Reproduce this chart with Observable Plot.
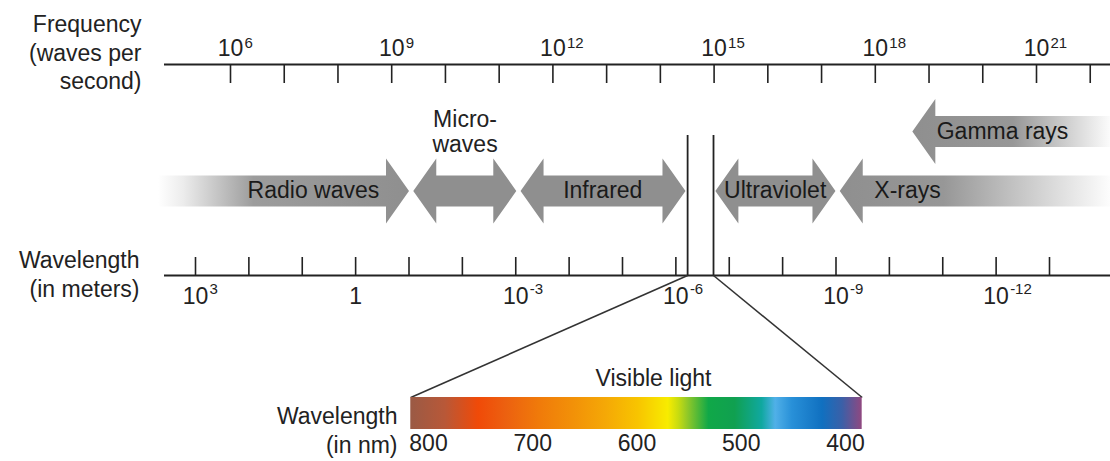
<!DOCTYPE html>
<html>
<head>
<meta charset="utf-8">
<script src="https://cdn.jsdelivr.net/npm/d3@7"></script>
<script src="https://cdn.jsdelivr.net/npm/@observablehq/plot@0.6"></script>
<style>
  html, body { margin: 0; padding: 0; background: #fff; }
  #chart { width: 1110px; height: 461px; }
</style>
</head>
<body>
<div id="chart"></div>
<script>
// ---------------- DATA ----------------
const freqTickExponents = [6,7,8,9,10,11,12,13,14,15,16,17,18,19,20,21,22];
const freqLabelExponents = [6, 9, 12, 15, 18, 21];
const waveTickExponents = [3,2,1,0,-1,-2,-3,-4,-5,-6,-7,-8,-9,-10,-11,-12,-13];
const waveLabelExponents = [3, 0, -3, -6, -9, -12];

const bandNames      = ["Radio waves", "Micro-\nwaves", "Infrared", "Ultraviolet", "X-rays", "Gamma rays"];
const bandLongEnd    = [3.7, -1.08, -3.09, -6.74, -9.07, -10.43];   // log10 wavelength (m)
const bandShortEnd   = [-1.0, -3.01, -6.18, -8.99, -14.2, -14.2];
const bandHeads      = ["right", "both", "both", "both", "left", "left"];
const bandRow        = ["lower", "lower", "lower", "lower", "lower", "upper"];
const bandLabelAt    = [0.79, -2.05, -4.63, -7.86, -10.34, -12.12];
const bandLabelPlace = ["on", "above", "on", "on", "on", "on"];
const bandFade       = ["left", "none", "none", "none", "right", "rightLate"];

const visibleEdges = [-6.22, -6.705];      // log10 wavelength of the two vertical lines
const spectrumEnds = [817, 384];           // nm at the ends of the colour bar
const nmTicks = [800, 700, 600, 500, 400];
const spectrumNm     = [817, 784, 752, 726, 694, 662, 630, 599, 570, 560, 551, 531, 506, 480, 467, 451, 422, 403, 384];
const spectrumColors = ["#9a5a45", "#b85838", "#f04a08", "#ec6010", "#f07a0a", "#f29008", "#f5a806", "#f8c400",
                        "#f8ec00", "#c8dc10", "#90c828", "#10a848", "#10a050", "#10a8a0", "#50b0e8", "#2890d8",
                        "#1070c0", "#3a60a8", "#904880"];

const freqTitle = ["Frequency", "(waves per", "second)"];
const waveTitle = ["Wavelength", "(in meters)"];
const nmTitle = ["Wavelength", "(in nm)"];
const visibleTitle = "Visible light";

// ---------------- LAYOUT / STYLE ----------------
const LAYOUT = {
  width: 1110, height: 461,
  axisLeft: 164, axisRight: 1110,
  freqAxisY: 64, freqTickLen: 19, freqLabelY: 48, freqSupY: 43,
  waveAxisY: 275, waveTickLen: 18, waveLabelY: 296, waveSupY: 289,
  rowY: {lower: 190.5, upper: 131},
  shaftHalf: 15.5, headHalf: 32.5, headLen: 23,
  microLabelY: 130.5,
  visTop: 135,
  barTop: 397, barBottom: 429,
  nmLabelY: 443, visibleLabelX: 653, visibleLabelY: 378,
  titleX: 141, nmTitleX: 397,
  font: 23, supFont: 15, supDx: 14
};
const INK = "#222";
const ARROW = "#8f8f8f";

// ---------------- SCALES ----------------
const freqScale = Plot.scale({x: {domain: [6, 21], range: [230, 1036]}});
const waveScale = Plot.scale({x: {domain: [3, -13], range: [195, 1049]}});
const nmScale   = Plot.scale({x: {domain: [800, 400], range: [428, 845]}});

// ---------------- ARROWS ----------------
function arrowPolygon(i) {
  const a = waveScale.apply(bandLongEnd[i]);
  const b = waveScale.apply(bandShortEnd[i]);
  const cy = LAYOUT.rowY[bandRow[i]];
  const S = LAYOUT.shaftHalf, Hh = LAYOUT.headHalf, h = LAYOUT.headLen;
  const L = bandHeads[i] !== "right", R = bandHeads[i] !== "left";
  const p = [];
  if (L) p.push([a, cy], [a + h, cy - Hh], [a + h, cy - S]); else p.push([a, cy - S]);
  if (R) p.push([b - h, cy - S], [b - h, cy - Hh], [b, cy], [b - h, cy + Hh], [b - h, cy + S]);
  else p.push([b, cy - S], [b, cy + S]);
  if (L) p.push([a + h, cy + S], [a + h, cy + Hh]); else p.push([a, cy + S]);
  return p.map(([x, y]) => ({x, y}));
}
const fadeFill = {left: "url(#fadeLeft)", none: ARROW, right: "url(#fadeRight)", rightLate: "url(#fadeRightLate)"};
const arrowMarks = bandNames.map((name, i) =>
  Plot.line(arrowPolygon(i), {x: "x", y: "y", fill: fadeFill[bandFade[i]], stroke: "none", curve: "linear-closed"})
);

const idx = bandNames.map((_, i) => i);
const onIdx = idx.filter(i => bandLabelPlace[i] === "on");
const aboveIdx = idx.filter(i => bandLabelPlace[i] === "above");
const txt = {fill: INK, fontSize: LAYOUT.font};

const svg = Plot.plot({
  width: LAYOUT.width, height: LAYOUT.height,
  margin: 0,
  x: {type: "identity", axis: null},
  y: {type: "identity", axis: null},
  style: {fontFamily: "'Liberation Sans', Arial, sans-serif", background: "#fff"},
  marks: [
    ...arrowMarks,
    Plot.text(onIdx, {x: i => waveScale.apply(bandLabelAt[i]), y: i => LAYOUT.rowY[bandRow[i]], text: i => bandNames[i], ...txt, fill: "#1a1a1a"}),
    Plot.text(aboveIdx, {x: i => waveScale.apply(bandLabelAt[i]), y: LAYOUT.microLabelY, text: i => bandNames[i], lineHeight: 1.09, ...txt}),

    // frequency axis
    Plot.ruleY([LAYOUT.freqAxisY], {x1: LAYOUT.axisLeft, x2: LAYOUT.axisRight, stroke: INK, strokeWidth: 2}),
    Plot.ruleX(freqTickExponents, {x: d => freqScale.apply(d), y1: LAYOUT.freqAxisY, y2: LAYOUT.freqAxisY + LAYOUT.freqTickLen, stroke: INK, strokeWidth: 1.6}),
    Plot.text(freqLabelExponents, {x: d => freqScale.apply(d), y: LAYOUT.freqLabelY, text: () => "10", ...txt}),
    Plot.text(freqLabelExponents, {x: d => freqScale.apply(d), y: LAYOUT.freqSupY, text: d => String(d), dx: LAYOUT.supDx, textAnchor: "start", fill: INK, fontSize: LAYOUT.supFont}),
    Plot.text([freqTitle.join("\n")], {x: LAYOUT.titleX, y: 51, text: d => d, textAnchor: "end", lineHeight: 1.24, ...txt}),

    // wavelength axis
    Plot.ruleY([LAYOUT.waveAxisY], {x1: LAYOUT.axisLeft, x2: LAYOUT.axisRight, stroke: INK, strokeWidth: 2}),
    Plot.ruleX(waveTickExponents, {x: d => waveScale.apply(d), y1: LAYOUT.waveAxisY - LAYOUT.waveTickLen, y2: LAYOUT.waveAxisY, stroke: INK, strokeWidth: 1.6}),
    Plot.text(waveLabelExponents, {x: d => waveScale.apply(d), y: LAYOUT.waveLabelY, text: d => d === 0 ? "1" : "10", ...txt}),
    Plot.text(waveLabelExponents.filter(d => d !== 0), {x: d => waveScale.apply(d), y: LAYOUT.waveSupY, text: d => String(d), dx: LAYOUT.supDx, textAnchor: "start", fill: INK, fontSize: LAYOUT.supFont}),
    Plot.text([waveTitle.join("\n")], {x: LAYOUT.titleX - 2, y: 272.5, text: d => d, textAnchor: "end", lineHeight: 1.26, ...txt}),

    // visible band
    Plot.ruleX(visibleEdges, {x: d => waveScale.apply(d), y1: LAYOUT.visTop, y2: LAYOUT.waveAxisY, stroke: INK, strokeWidth: 1.8}),
    Plot.link([0, 1], {x1: i => waveScale.apply(visibleEdges[i]), y1: LAYOUT.waveAxisY, x2: i => nmScale.apply(spectrumEnds[i]), y2: LAYOUT.barTop, stroke: "#333", strokeWidth: 1.6}),
    Plot.rect([spectrumEnds], {x1: d => nmScale.apply(d[0]), x2: d => nmScale.apply(d[1]), y1: LAYOUT.barTop, y2: LAYOUT.barBottom, fill: "url(#spectrum)"}),
    Plot.text(nmTicks, {x: d => nmScale.apply(d), y: LAYOUT.nmLabelY, text: d => String(d), ...txt}),
    Plot.text([visibleTitle], {x: LAYOUT.visibleLabelX, y: LAYOUT.visibleLabelY, text: d => d, ...txt}),
    Plot.text([nmTitle.join("\n")], {x: LAYOUT.nmTitleX, y: 429, text: d => d, textAnchor: "end", lineHeight: 1.22, ...txt})
  ]
});

// gradient definitions (style)
const defs = d3.select(svg).insert("defs", ":first-child");
function grad(id, stops) {
  const g = defs.append("linearGradient").attr("id", id).attr("x1", 0).attr("x2", 1).attr("y1", 0).attr("y2", 0);
  stops.forEach(([o, c]) => g.append("stop").attr("offset", o).attr("stop-color", c));
}
grad("fadeLeft", [[0, "#ffffff"], [0.1, "#ececec"], [0.38, "#9c9c9c"], [1, ARROW]]);
grad("fadeRight", [[0, ARROW], [0.38, "#979797"], [0.8, "#dedede"], [1, "#ffffff"]]);
grad("fadeRightLate", [[0, ARROW], [0.5, "#979797"], [0.85, "#e0e0e0"], [1, "#ffffff"]]);
const x0 = nmScale.apply(spectrumEnds[0]), x1 = nmScale.apply(spectrumEnds[1]);
grad("spectrum", spectrumNm.map((nm, i) => [(nmScale.apply(nm) - x0) / (x1 - x0), spectrumColors[i]]));

document.getElementById("chart").appendChild(svg);
</script>
</body>
</html>
